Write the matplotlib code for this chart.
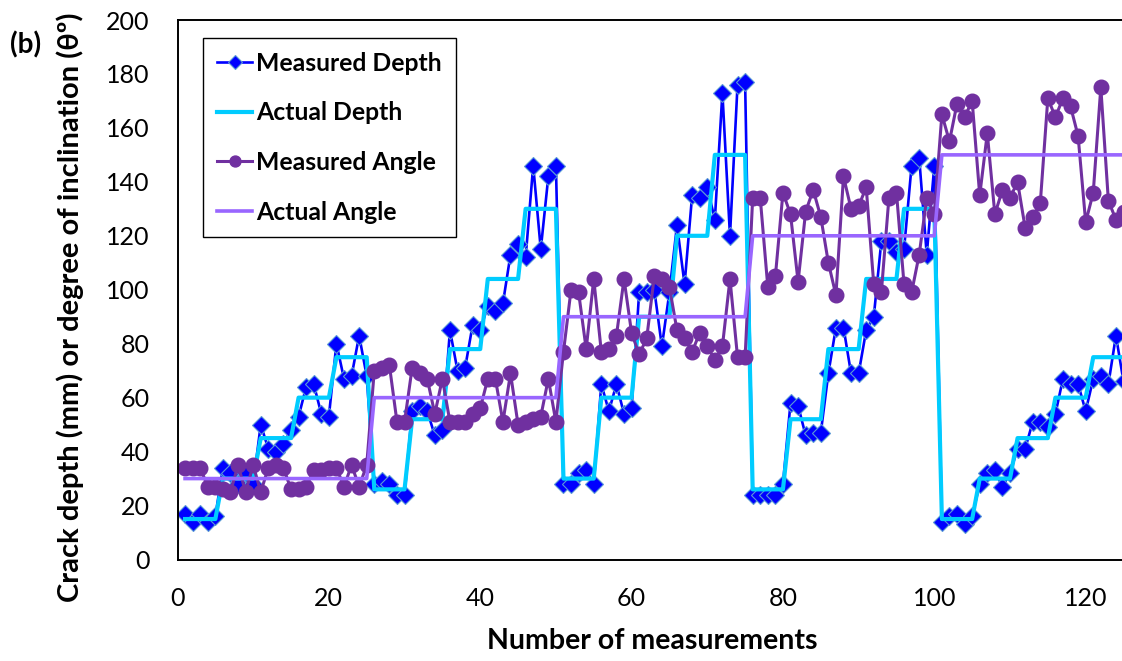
import matplotlib
matplotlib.use("Agg")
import matplotlib.pyplot as plt

# values
measurements = list(range(1, 126))

measured_depth = [
    17, 14, 17, 14, 16, 34, 32, 28, 32, 28, 50, 41, 40, 43, 48, 53, 64, 65, 54, 53, 80, 67, 68, 83, 68,
    28, 29, 28, 24, 24, 55, 57, 55, 46, 48, 85, 70, 71, 87, 85, 94, 92, 95, 113, 117, 112, 146, 115, 142, 146,
    28, 28, 32, 33, 28, 65, 55, 65, 54, 56, 99, 99, 100, 79, 99, 124, 102, 135, 134, 138, 126, 173, 120, 176, 177,
    24, 24, 24, 24, 28, 58, 57, 46, 47, 47, 69, 86, 86, 69, 69, 85, 90, 118, 118, 114, 115, 146, 149, 113, 146,
    14, 16, 17, 13, 16, 28, 32, 33, 27, 32, 41, 41, 51, 51, 49, 54, 67, 65, 65, 55, 67, 68, 65, 83, 66,
]

actual_depth = [
    15, 15, 15, 15, 15, 30, 30, 30, 30, 30, 45, 45, 45, 45, 45, 60, 60, 60, 60, 60, 75, 75, 75, 75, 75,
    26, 26, 26, 26, 26, 52, 52, 52, 52, 52, 78, 78, 78, 78, 78, 104, 104, 104, 104, 104, 130, 130, 130, 130, 130,
    30, 30, 30, 30, 30, 60, 60, 60, 60, 60, 90, 90, 90, 90, 90, 120, 120, 120, 120, 120, 150, 150, 150, 150, 150,
    26, 26, 26, 26, 26, 52, 52, 52, 52, 52, 78, 78, 78, 78, 78, 104, 104, 104, 104, 104, 130, 130, 130, 130, 130,
    15, 15, 15, 15, 15, 30, 30, 30, 30, 30, 45, 45, 45, 45, 45, 60, 60, 60, 60, 60, 75, 75, 75, 75, 75,
]

measured_angle = [
    34, 34, 34, 27, 27, 26, 25, 35, 25, 35, 25, 34, 35, 34, 26, 26, 27, 33, 33, 34, 34, 27, 35, 27, 35,
    70, 71, 72, 51, 51, 71, 69, 67, 54, 67, 51, 51, 51, 54, 56, 67, 67, 51, 69, 50, 51, 52, 53, 67, 51,
    77, 100, 99, 78, 104, 77, 78, 83, 104, 84, 76, 82, 105, 104, 101, 85, 82, 77, 84, 79, 74, 79, 104, 75, 75,
    134, 134, 101, 105, 136, 128, 103, 129, 137, 127, 110, 98, 142, 130, 131, 138, 102, 99, 134, 136, 102, 99, 113, 134, 128,
    165, 155, 169, 164, 170, 135, 158, 128, 137, 134, 140, 123, 127, 132, 171, 164, 171, 168, 157, 125, 136, 175, 133, 126, 129,
]

actual_angle = [
    30, 30, 30, 30, 30, 30, 30, 30, 30, 30, 30, 30, 30, 30, 30, 30, 30, 30, 30, 30, 30, 30, 30, 30, 30,
    60, 60, 60, 60, 60, 60, 60, 60, 60, 60, 60, 60, 60, 60, 60, 60, 60, 60, 60, 60, 60, 60, 60, 60, 60,
    90, 90, 90, 90, 90, 90, 90, 90, 90, 90, 90, 90, 90, 90, 90, 90, 90, 90, 90, 90, 90, 90, 90, 90, 90,
    120, 120, 120, 120, 120, 120, 120, 120, 120, 120, 120, 120, 120, 120, 120, 120, 120, 120, 120, 120, 120, 120, 120, 120, 120,
    150, 150, 150, 150, 150, 150, 150, 150, 150, 150, 150, 150, 150, 150, 150, 150, 150, 150, 150, 150, 150, 150, 150, 150, 150,
]

x_ticks = [0, 20, 40, 60, 80, 100, 120]
y_ticks = [0, 20, 40, 60, 80, 100, 120, 140, 160, 180, 200]

plt.rcParams['font.family'] = ['Lato', 'DejaVu Sans']

fig = plt.figure(figsize=(11.22, 6.61), dpi=100)
ax = fig.add_axes([177.5 / 1122, 1 - 559.5 / 661, (1122 - 177.5) / 1122, (559.5 - 20) / 661])

ax.plot(measurements, measured_depth, color='#0000FF', lw=1.9, marker='D', markersize=9.5,
        markerfacecolor='#0000FF', markeredgecolor='#5B9BD5', markeredgewidth=0.8, label='Measured Depth')
ax.plot(measurements, actual_depth, color='#00CCFF', lw=3.0, label='Actual Depth')
ax.plot(measurements, measured_angle, color='#7030A0', lw=2.2, marker='o', markersize=10.5,
        markerfacecolor='#7030A0', markeredgecolor='#7030A0', label='Measured Angle')
ax.plot(measurements, actual_angle, color='#9966FF', lw=2.6, label='Actual Angle')

ax.set_xlim(0, 124.8)
ax.set_ylim(0, 200)
ax.set_xticks(x_ticks)
ax.set_yticks(y_ticks)
ax.tick_params(length=0, labelsize=18, pad=20)

for side in ['left', 'bottom', 'top']:
    ax.spines[side].set_linewidth(1.4)
    ax.spines[side].set_color('black')
ax.spines['right'].set_visible(False)

fig.text(70 / 1122, 1 - 307 / 661, 'Crack depth (mm) or degree of inclination (\u03b8\u00ba)',
         rotation=90, ha='center', va='center', fontsize=21, fontweight='bold')
fig.text(652 / 1122, 1 - 641 / 661, 'Number of measurements', ha='center', va='center',
         fontsize=20.5, fontweight='bold')
fig.text(26 / 1122, 1 - 45 / 661, '(b)', ha='center', va='center', fontsize=20, fontweight='bold')

leg = ax.legend(loc='upper left', bbox_to_anchor=(203 / 1122, 1 - 38 / 661),
                bbox_transform=fig.transFigure, borderaxespad=0, fancybox=False,
                edgecolor='black', framealpha=1, prop={'weight': 'bold', 'size': 17.8},
                handlelength=1.45, handletextpad=0.16, labelspacing=1.08, borderpad=0.55,
                markerscale=0.75)
leg.get_frame().set_linewidth(1.0)

fig.savefig('out.png', dpi=100)
